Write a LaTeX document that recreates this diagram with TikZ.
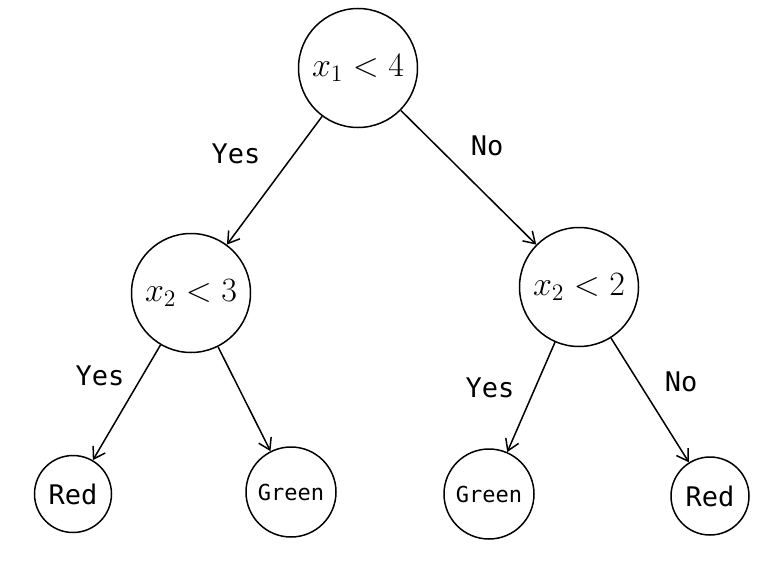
\documentclass[tikz,border=0pt]{standalone}
\usepackage{fontspec}
\setmonofont{DejaVu Sans Mono}
\usetikzlibrary{arrows.meta}
\newcommand{\mytreemath}[1]{\scalebox{1.97}{\LARGE$#1$}}
\begin{document}
\begin{tikzpicture}[x=1pt,y=-1pt,
  tnode/.style={draw,circle,line width=1.5pt,inner sep=0pt},
  edge/.style={line width=1.5pt,-{Straight Barb[length=11pt,width=14pt,line width=1.5pt]}},
  lbl/.style={font=\fontsize{27}{30}\selectfont\ttfamily}]
\useasboundingbox (0,0) rectangle (768,570);
\node[tnode,minimum size=119pt] (r) at (358,68) {\mytreemath{x_1<4}};
\node[tnode,minimum size=119pt] (a) at (191,293) {\mytreemath{x_2<3}};
\node[tnode,minimum size=119pt] (b) at (579,287) {\mytreemath{x_2<2}};
\node[tnode,minimum size=77pt,font=\fontsize{27}{30}\selectfont\ttfamily] (l1) at (73,494) {Red};
\node[tnode,minimum size=90pt,font=\fontsize{22}{26}\selectfont\ttfamily] (l2) at (291,492) {Green};
\node[tnode,minimum size=90pt,font=\fontsize{22}{26}\selectfont\ttfamily] (l3) at (489,494) {Green};
\node[tnode,minimum size=78pt,font=\fontsize{27}{30}\selectfont\ttfamily] (l4) at (710,496) {Red};
\draw[edge] (r) -- (a);
\draw[edge] (r) -- (b);
\draw[edge] (a) -- (l1);
\draw[edge] (a) -- (l2);
\draw[edge] (b) -- (l3);
\draw[edge] (b) -- (l4);
\node[lbl] (y1) at (236,154) {Yes};
\node[lbl] (n1) at (487,146) {No};
\node[lbl] (y2) at (100,376) {Yes};
\node[lbl] (y3) at (490,388) {Yes};
\node[lbl] (n2) at (681,382) {No};
\end{tikzpicture}
\end{document}
